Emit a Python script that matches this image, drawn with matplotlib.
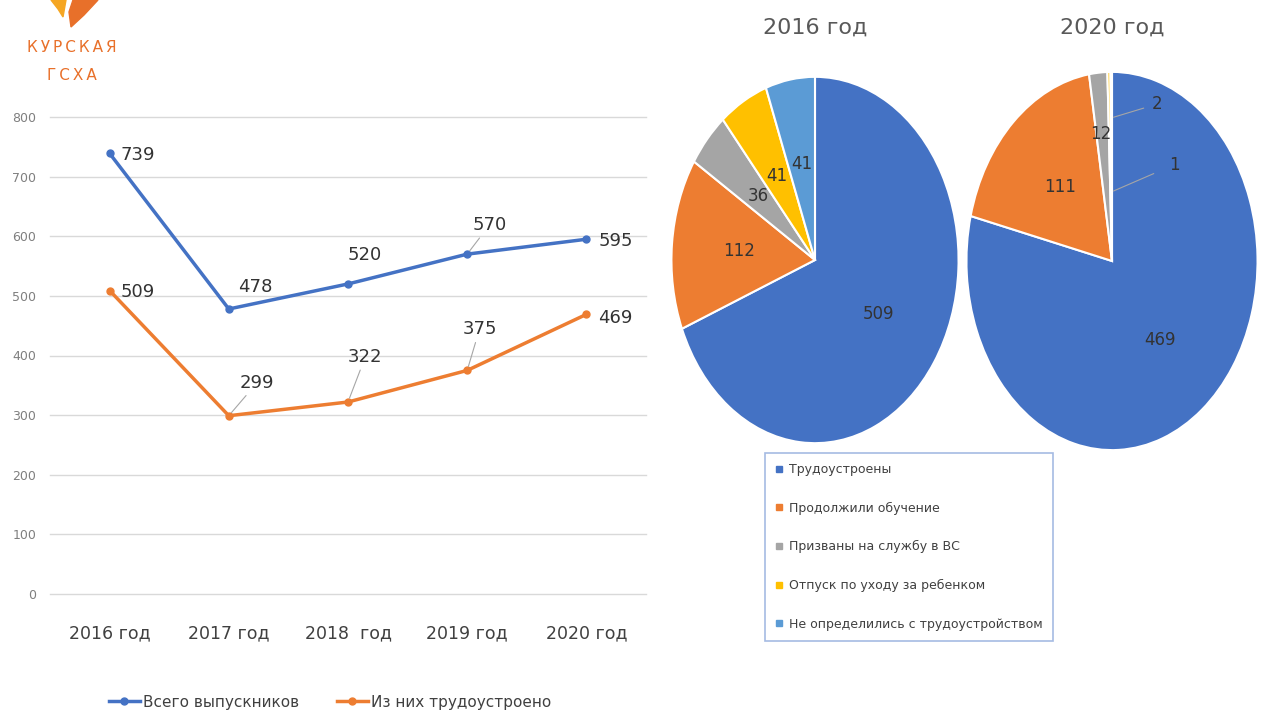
import matplotlib.pyplot as plt
from matplotlib.lines import Line2D
from matplotlib.patches import Polygon

plt.rcParams['font.family'] = ['DejaVu Sans']

# данные линейного графика
years = ['2016 год', '2017 год', '2018  год', '2019 год', '2020 год']
total = [739, 478, 520, 570, 595]
employed = [509, 299, 322, 375, 469]

# данные круговых диаграмм
categories = ['Трудоустроены', 'Продолжили обучение', 'Призваны на службу в ВС',
              'Отпуск по уходу за ребенком', 'Не определились с трудоустройством']
pie_2016 = [509, 112, 36, 41, 41]
pie_2020 = [469, 111, 12, 2, 1]

blue = '#4472C4'
orange = '#ED7D31'
pie_colors = ['#4472C4', '#ED7D31', '#A5A5A5', '#FFC000', '#5B9BD5']
text_c = '#404040'

W, H = 1264, 715
fig = plt.figure(figsize=(W / 100, H / 100), dpi=100)


def box(x0, y0, x1, y1):
    # прямоугольник в пикселях -> доли фигуры
    return [x0 / W, 1 - y1 / H, (x1 - x0) / W, (y1 - y0) / H]


# фон: логотип и заголовки
bg = fig.add_axes([0, 0, 1, 1], zorder=-1)
bg.set_xlim(0, W)
bg.set_ylim(H, 0)
bg.axis('off')
bg.add_patch(Polygon([(51, 0), (66, 0), (63, 17), (58, 9)], closed=True, color='#F5A623'))
bg.add_patch(Polygon([(73, 0), (98, 0), (84, 15), (71, 27), (69, 12)], closed=True, color='#E8702A'))
bg.text(72, 48, '\u2009'.join('КУРСКАЯ'), ha='center', va='center', color='#E8702A',
        fontsize=11)
bg.text(72, 75, '\u2009'.join('ГСХА'), ha='center', va='center', color='#E8702A',
        fontsize=11)
bg.text(815, 28, '2016 год', ha='center', va='center', fontsize=16, color='#595959')
bg.text(1112, 28, '2020 год', ha='center', va='center', fontsize=16, color='#595959')

# линейный график
ax = fig.add_axes(box(50, 117, 646, 594))
x = list(range(len(years)))
ax.plot(x, total, color=blue, lw=2.5, marker='o', ms=5, label='Всего выпускников')
ax.plot(x, employed, color=orange, lw=2.5, marker='o', ms=5, label='Из них трудоустроено')
ax.set_xlim(-0.5, len(years) - 0.5)
ax.set_ylim(0, 800)
ax.set_yticks(range(0, 801, 100))
ax.set_xticks(x)
ax.set_xticklabels(years)
ax.grid(axis='y', color='#D9D9D9', lw=1)
for gl in ax.get_ygridlines():
    gl.set_clip_on(False)
ax.set_axisbelow(True)
for s in ax.spines.values():
    s.set_visible(False)
ax.tick_params(length=0)
ax.tick_params(axis='y', labelsize=9, labelcolor='#7F7F7F', pad=10)
ax.tick_params(axis='x', labelsize=12.5, labelcolor=text_c, pad=22)

# подписи значений (смещения в пикселях) и выноски
total_off = [(11, -2), (9, 22), (0, 29), (5, 29), (12, -2)]
total_lead = [False, False, False, True, False]
empl_off = [(11, -1), (11, 33), (0, 45), (-5, 41), (12, -4)]
empl_lead = [False, True, True, True, False]
for series, offs, leads in [(total, total_off, total_lead), (employed, empl_off, empl_lead)]:
    for i, v in enumerate(series):
        kw = {}
        if leads[i]:
            kw['arrowprops'] = dict(arrowstyle='-', color='#A6A6A6', lw=0.8, shrinkA=1, shrinkB=3)
        ax.annotate(str(v), (i, v), xytext=offs[i], textcoords='offset pixels',
                    ha='left', va='center', fontsize=13, color='#333333', **kw)

fig.legend(*ax.get_legend_handles_labels(), loc='center', bbox_to_anchor=(330 / W, 1 - 702 / H),
           ncol=2, frameon=False, fontsize=11, handlelength=2, columnspacing=2.5,
           handletextpad=0.2, labelcolor=text_c)


# круговые диаграммы
def draw_pie(rect, values):
    pa = fig.add_axes(rect)
    total_v = sum(values)
    wedges, _, autotexts = pa.pie(values, colors=pie_colors, startangle=90, counterclock=False,
                                  autopct=lambda p: f'{p * total_v / 100:.0f}', pctdistance=0.53,
                                  wedgeprops=dict(edgecolor='white', linewidth=1.5),
                                  textprops=dict(fontsize=12, color='#333333'))
    pa.set_aspect('auto')
    pa.set_xlim(-1.01, 1.01)
    pa.set_ylim(-1.01, 1.01)
    return pa, wedges, autotexts


p1, w1, t1 = draw_pie(box(670, 75, 960, 445), pie_2016)
p2, w2, t2 = draw_pie(box(965, 70, 1259, 452), pie_2020)

# ручная раскладка подписей мелких секторов 2020
t2[2].set_position((-0.08, 0.67))
t2[3].set_visible(False)
t2[4].set_visible(False)
p2.annotate(str(pie_2020[3]), (0.01, 0.76), xytext=(0.31, 0.83), ha='center', va='center',
            fontsize=12, color='#333333',
            arrowprops=dict(arrowstyle='-', color='#A6A6A6', lw=0.8, shrinkA=4, shrinkB=0))
p2.annotate(str(pie_2020[4]), (0.01, 0.37), xytext=(0.43, 0.51), ha='center', va='center',
            fontsize=12, color='#333333',
            arrowprops=dict(arrowstyle='-', color='#A6A6A6', lw=0.8, shrinkA=10, shrinkB=0))

handles = [Line2D([], [], ls='none', marker='s', ms=4, color=c) for c in pie_colors]
leg = fig.legend(handles, categories, loc='upper left', bbox_to_anchor=(765 / W, 1 - 453 / H),
                 borderaxespad=0, frameon=True, fancybox=False, edgecolor='#8FAADC', fontsize=9,
                 labelspacing=2.05, handlelength=0.6, handletextpad=0.5, borderpad=0.8,
                 labelcolor=text_c)
leg.get_frame().set_linewidth(1.2)

fig.savefig('out.png', dpi=100)
